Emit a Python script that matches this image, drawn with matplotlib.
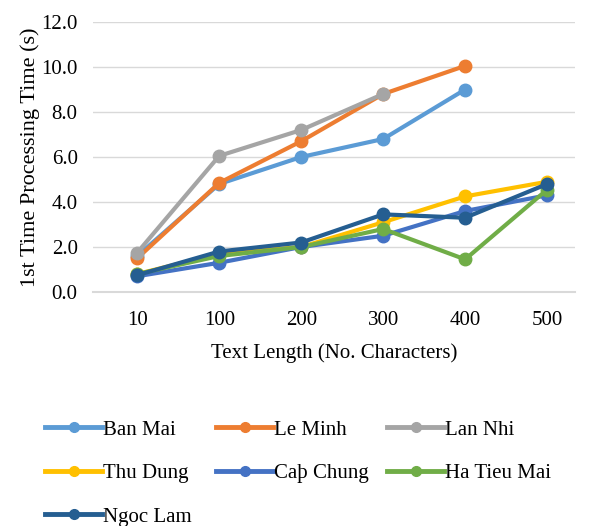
import matplotlib.pyplot as plt

plt.rcParams['font.family'] = ['Liberation Serif', 'DejaVu Serif']

lengths = ['10', '100', '200', '300', '400', '500']

ban_mai = [1.6, 4.8, 6.0, 6.8, 9.0]
le_minh = [1.5, 4.85, 6.7, 8.8, 10.05]
lan_nhi = [1.75, 6.05, 7.2, 8.8]
thu_dung = [0.8, 1.7, 2.0, 3.1, 4.25, 4.9]
cap_chung = [0.7, 1.3, 2.0, 2.5, 3.6, 4.3]
ha_tieu_mai = [0.8, 1.6, 2.0, 2.8, 1.45, 4.55]
ngoc_lam = [0.75, 1.8, 2.2, 3.45, 3.3, 4.8]

names = ['Ban Mai', 'Le Minh', 'Lan Nhi', 'Thu Dung', 'Caþ Chung', 'Ha Tieu Mai', 'Ngoc Lam']
values = [ban_mai, le_minh, lan_nhi, thu_dung, cap_chung, ha_tieu_mai, ngoc_lam]
colors = ['#5B9BD5', '#ED7D31', '#A5A5A5', '#FFC000', '#4472C4', '#70AD47', '#255E91']

fig = plt.figure(figsize=(5.89, 5.26), dpi=100)
ax = fig.add_axes([93 / 589, 1 - 292 / 526, 482 / 589, 270 / 526])

xs = list(range(len(lengths)))
for name, vals, col in zip(names, values, colors):
    ax.plot(xs[:len(vals)], vals, color=col, lw=3, marker='o', ms=9,
            solid_capstyle='round')

ax.set_xlim(-0.54, 5.34)
ax.set_ylim(0, 12)
yt = [0, 2, 4, 6, 8, 10, 12]
ax.set_yticks(yt)
ax.set_yticklabels(['%.1f' % v for v in yt])
ax.set_xticks(xs)
ax.set_xticklabels(lengths)
ax.grid(axis='y', color='#D9D9D9', lw=1)
ax.set_axisbelow(True)
for s in ['top', 'right', 'left']:
    ax.spines[s].set_visible(False)
ax.spines['bottom'].set_color('#D9D9D9')
ax.spines['bottom'].set_linewidth(1.5)
ax.tick_params(length=0, labelsize=15)
ax.tick_params(axis='y', pad=11)
ax.tick_params(axis='x', pad=14)
ax.set_ylabel('1st Time Processing Time (s)', fontsize=16, labelpad=1)
ax.set_xlabel('Text Length (No. Characters)', fontsize=15, labelpad=9)

# legend laid out in three fixed-width columns, filled row by row
ncol = 3
for j in range(ncol):
    idx = list(range(j, len(names), ncol))
    handles = []
    for i in idx:
        h, = ax.plot([], [], color=colors[i], lw=3.5, marker='o', ms=7)
        handles.append(h)
    fig.legend(handles, [names[i] for i in idx], loc='upper left',
               bbox_to_anchor=((45 + 171 * j) / 589, 1 - 420 / 526),
               borderpad=0, borderaxespad=0, frameon=False, fontsize=15,
               handlelength=2.75, handletextpad=0.05, labelspacing=1.15)

fig.savefig('out.png', dpi=100)
